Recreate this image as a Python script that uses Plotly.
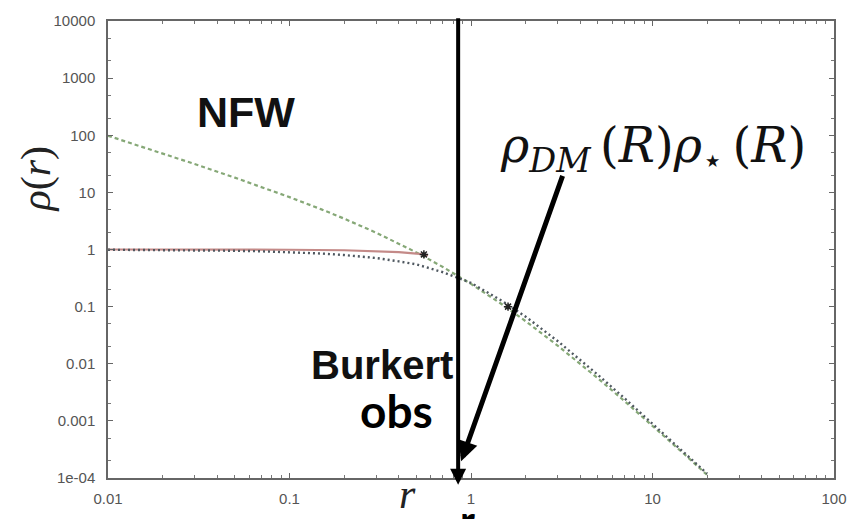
import plotly.graph_objects as go

# ---- data ----
r_nfw = [0.01, 0.02, 0.03, 0.05, 0.07, 0.1, 0.15, 0.2, 0.3, 0.5, 0.7, 1, 1.5, 2, 3, 5, 7, 10, 15, 20]
rho_nfw = [98.0, 48.1, 31.4, 18.1, 12.5, 8.26, 5.04, 3.47, 1.97, 0.889, 0.494, 0.25, 0.107,
           0.0556, 0.0208, 0.00556, 0.00223, 0.000826, 0.00026, 0.000113]

r_burk = [0.01, 0.02, 0.03, 0.05, 0.07, 0.1, 0.15, 0.2, 0.3, 0.4, 0.5, 0.7, 1, 1.5, 2, 3, 5, 7, 10, 15, 20]
rho_burk = [0.99, 0.98, 0.97, 0.95, 0.93, 0.90, 0.85, 0.80, 0.71, 0.62, 0.55, 0.40, 0.26, 0.123,
            0.0667, 0.025, 0.0064, 0.0025, 0.0009, 0.000275, 0.000119]

r_fit = [0.01, 0.05, 0.1, 0.2, 0.3, 0.4, 0.5, 0.58]
rho_fit = [1.0, 1.0, 0.99, 0.97, 0.94, 0.90, 0.85, 0.80]

r_obs = [0.55, 1.6]
rho_obs = [0.82, 0.10]

x_tickvals = [0.01, 0.1, 1, 10, 100]
x_ticktext = ["0.01", "0.1", "1", "10", "100"]
y_tickvals = [1e4, 1e3, 1e2, 10, 1, 0.1, 0.01, 0.001, 1e-4]
y_ticktext = ["10000", "1000", "100", "10", "1", "0.1", "0.01", "0.001", "1e-04"]
x_minor = [m * 10 ** e for e in range(-2, 2) for m in range(2, 10)]
y_minor = [m * 10 ** e for e in range(-4, 4) for m in (2, 5)]

fig = go.Figure()
fig.add_trace(go.Scatter(x=r_nfw, y=rho_nfw, mode="lines",
                         line=dict(color="#86a877", width=2.2, dash="4px,3px"), showlegend=False))
fig.add_trace(go.Scatter(x=r_fit, y=rho_fit, mode="lines",
                         line=dict(color="#c48a88", width=2.2), showlegend=False))
fig.add_trace(go.Scatter(x=r_burk, y=rho_burk, mode="lines",
                         line=dict(color="#4f5860", width=2.4, dash="2px,3px"), showlegend=False))
fig.add_trace(go.Scatter(x=r_obs, y=rho_obs, mode="markers",
                         marker=dict(symbol="asterisk-open", size=7, color="#222",
                                     line=dict(color="#222", width=1.5)), showlegend=False))

tickfont = dict(family="Liberation Sans, Arial, sans-serif", size=15, color="#555")
axis_common = dict(type="log", showgrid=False, zeroline=False, showline=True, linecolor="#666",
                   linewidth=1.5, mirror="allticks", ticks="inside", ticklen=5, tickcolor="#666",
                   tickfont=tickfont, tickmode="array")

fig.update_xaxes(range=[-2, 2], tickvals=x_tickvals, ticktext=x_ticktext, ticklabelstandoff=6,
                 minor=dict(tickmode="array", tickvals=x_minor, ticks="inside", ticklen=3,
                            tickcolor="#777", showgrid=False), **axis_common)
fig.update_yaxes(range=[-4, 4], tickvals=y_tickvals, ticktext=y_ticktext, ticklabelstandoff=8,
                 minor=dict(tickmode="array", tickvals=y_minor, ticks="inside", ticklen=3,
                            tickcolor="#777", showgrid=False), **axis_common)

serif = "DejaVu Serif, Liberation Serif, serif"
bold_sans = "Liberation Sans, Arial, sans-serif"
thin = "\u2009"
formula = ("<i>ρ</i><sub><i>DM</i></sub>" + thin + "(<i>R</i>)" +
           "<i>ρ</i><sub>⋆</sub>" + thin + "(<i>R</i>)")
annotations = [
    dict(text="<b>NFW</b>", x=0.190, y=0.801, font=dict(family=bold_sans, size=43, color="#111")),
    dict(text="<b>Burkert</b>", x=0.378, y=0.248, font=dict(family=bold_sans, size=40, color="#111")),
    dict(text="<b>obs</b>", x=0.398, y=0.148, font=dict(family="Lato, sans-serif", size=46, color="#000")),
    dict(text=formula, x=0.751, y=0.72, font=dict(family=serif, size=48, color="#111")),
    dict(text="<i>ρ</i>(<i>r</i>)", x=-0.098, y=0.655, textangle=-90,
         font=dict(family="Liberation Serif, serif", size=42, color="#222")),
    dict(text="<i>r</i>", x=0.412, y=-0.035, font=dict(family="Liberation Serif, serif", size=42, color="#222")),
    dict(text="<b>r</b>", x=0.4946, y=-0.034, yanchor="top", font=dict(family="Lato, sans-serif", size=40, color="#000")),
]
for a in annotations:
    a.update(xref="paper", yref="paper", showarrow=False, xanchor="center")
    a.setdefault("yanchor", "middle")

arrows = [
    dict(x=0.4823, y=-0.015, ax=0, ay=-468, arrowwidth=4),
    dict(x=0.4864, y=0.0364, ax=102, ay=-287, arrowwidth=5),
]
for a in arrows:
    a.update(xref="paper", yref="paper", text="", showarrow=True, arrowhead=2,
             arrowsize=0.8, arrowcolor="#000")
annotations += arrows

fig.update_layout(width=859, height=519, margin=dict(l=108, r=15, t=14, b=38),
                  plot_bgcolor="white", paper_bgcolor="white", annotations=annotations)

fig.write_html("out.html")
